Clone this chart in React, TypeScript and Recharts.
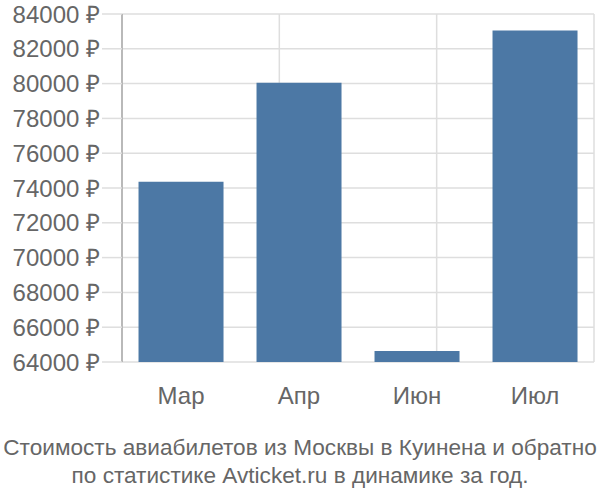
import { Bar, BarChart, CartesianGrid, XAxis, YAxis } from "recharts";

const months = ["Мар", "Апр", "Июн", "Июл"];
const prices = [74360, 80050, 64630, 83050];
const priceTicks = [64000, 66000, 68000, 70000, 72000, 74000, 76000, 78000, 80000, 82000, 84000];
const boundaryTicks = [0, 1, 2, 3, 4];

const FONT = "'Liberation Sans', Arial, sans-serif";
const TEXT = "#666666";
const GRID = "#dedede";

const data = months.map((month, i) => ({ month, price: prices[i] }));

export default function App() {
  return (
    <div style={{ position: "absolute", left: 0, top: 0, width: 600, height: 500, background: "#fff", fontFamily: FONT }}>
      <BarChart
        width={600}
        height={420}
        data={data}
        margin={{ top: 14, right: 6, bottom: 0, left: 0 }}
        barCategoryGap="14%"
      >
        <CartesianGrid xAxisId="grid" stroke={GRID} strokeWidth={1.5} />
        {/* category boundaries: vertical grid + the short ticks under the plot */}
        <XAxis
          xAxisId="grid"
          type="number"
          domain={[0, 4]}
          ticks={boundaryTicks}
          allowDataOverflow
          height={0}
          axisLine={false}
          tickSize={19}
          tickLine={{ stroke: GRID, strokeWidth: 1.5 }}
          tick={() => <g />}
        />
        <XAxis
          dataKey="month"
          height={58}
          axisLine={false}
          tickLine={false}
          tickSize={0}
          tickMargin={25}
          tick={{ fill: TEXT, fontSize: 24, fontFamily: FONT }}
        />
        <YAxis
          width={122}
          domain={[64000, 84000]}
          ticks={priceTicks}
          interval={0}
          allowDataOverflow
          tickFormatter={(v: number) => `${v} ₽`}
          axisLine={{ stroke: "#aaaaaa", strokeWidth: 1.5 }}
          tickSize={20}
          tickMargin={2}
          tickLine={{ stroke: GRID, strokeWidth: 1.5 }}
          tick={{ fill: TEXT, fontSize: 24, fontFamily: FONT }}
        />
        <Bar dataKey="price" fill="#4c78a5" isAnimationActive={false} />
      </BarChart>
      <div
        style={{
          width: 600,
          textAlign: "center",
          color: TEXT,
          fontSize: 22.6,
          lineHeight: "28px",
          paddingTop: 14,
          whiteSpace: "nowrap",
        }}
      >
        Стоимость авиабилетов из Москвы в Куинена и обратно
        <br />
        по статистике Avticket.ru в динамике за год.
      </div>
    </div>
  );
}
